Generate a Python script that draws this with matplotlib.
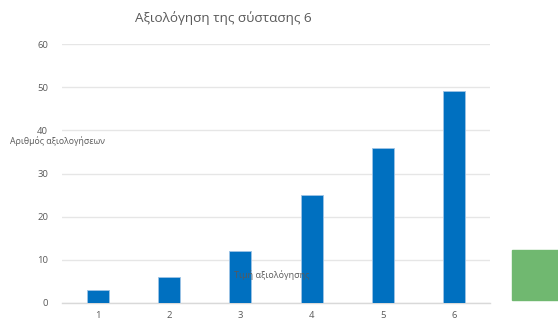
import matplotlib
matplotlib.use("Agg")
import matplotlib.pyplot as plt
from matplotlib.patches import Rectangle

plt.rcParams['font.family'] = ['Open Sans', 'DejaVu Sans']

ratings = ["1", "2", "3", "4", "5", "6"]
counts = [3, 6, 12, 25, 36, 49]
y_ticks = [0, 10, 20, 30, 40, 50, 60]

TEXT = "#595959"

fig = plt.figure(figsize=(5.58, 3.2), dpi=100)
# axes box in pixels: x 62..490, y 44..303 (of 320)
ax = fig.add_axes([62 / 558, 1 - 303 / 320, 428 / 558, 259 / 320])

x = list(range(len(ratings)))
ax.bar(x, counts, width=0.31, color="#0070c0", edgecolor="#9dc3e6",
       linewidth=0.6, zorder=3)

ax.set_xlim(-0.5, len(ratings) - 0.5)
ax.set_ylim(0, 60)
ax.set_xticks(x)
ax.set_xticklabels(ratings)
ax.set_yticks(y_ticks)
ax.tick_params(axis="both", length=0, labelsize=6.8, colors=TEXT)
ax.tick_params(axis="y", pad=10)
ax.tick_params(axis="x", pad=6)

ax.grid(axis="y", color="#e6e6e6", linewidth=1.0, zorder=0)
for side in ("top", "right", "left"):
    ax.spines[side].set_visible(False)
ax.spines["bottom"].set_color("#d9d9d9")
ax.spines["bottom"].set_linewidth(1.0)

fig.text(223 / 558, 1 - 18 / 320, "Αξιολόγηση της σύστασης 6", ha="center",
         va="center", fontsize=9.7, color=TEXT)
fig.text(10 / 558, 1 - 141 / 320, "Αριθμός αξιολογήσεων", ha="left",
         va="center", fontsize=6.3, color=TEXT)
# axis title sits on top of the bars
ax.text(272 / 558, 1 - 275 / 320, "Τιμή αξιολόγησης", ha="center",
        va="center", fontsize=6.5, color=TEXT, zorder=6,
        transform=fig.transFigure)

fig.patches.append(Rectangle((512 / 558, 1 - 300 / 320), 46 / 558, 50 / 320,
                             transform=fig.transFigure, color="#70b870"))

fig.savefig("out.png", dpi=100)
